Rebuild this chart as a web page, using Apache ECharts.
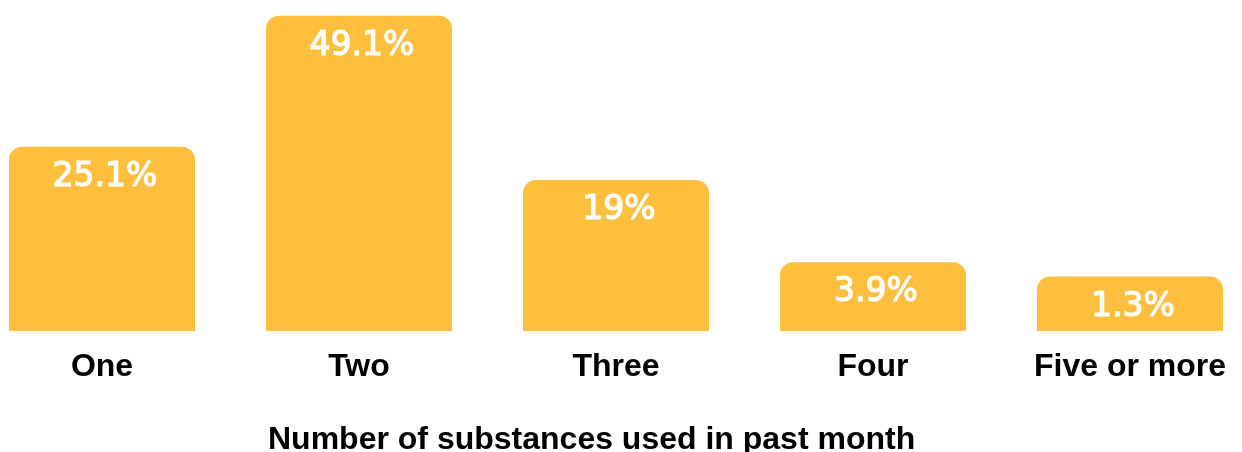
<!DOCTYPE html>
<html>
<head>
<meta charset="utf-8">
<script src="https://cdn.jsdelivr.net/npm/echarts@6/dist/echarts.min.js"></script>
<style>
  html, body { margin: 0; padding: 0; background: #ffffff; }
  #chart { width: 1242px; height: 452px; }
</style>
</head>
<body>
<div id="chart"></div>
<script>
// Share of respondents by number of substances used in the past month (%)
const categories = ['One', 'Two', 'Three', 'Four', 'Five or more'];
const shares = [25.1, 49.1, 19, 3.9, 1.3];
const axisTitle = 'Number of substances used in past month';

const barColor = '#FEBF3F';

const chart = echarts.init(document.getElementById('chart'), null, { renderer: 'canvas' });

chart.setOption({
  animation: false,
  backgroundColor: '#ffffff',
  title: {
    text: axisTitle,
    left: 268,
    top: 424,
    padding: 0,
    textStyle: {
      fontFamily: '"Liberation Sans", Arial, sans-serif',
      fontWeight: 'bold',
      fontSize: 32,
      color: '#000000'
    }
  },
  grid: {
    left: -26.5,
    width: 1285,
    top: 0,
    bottom: 121,
    containLabel: false,
    outerBoundsMode: 'none'
  },
  xAxis: {
    type: 'category',
    data: categories,
    axisLine: { show: false },
    axisTick: { show: false },
    axisLabel: {
      interval: 0,
      hideOverlap: false,
      margin: 20,
      fontFamily: '"Liberation Sans", Arial, sans-serif',
      fontWeight: 'bold',
      fontSize: 32,
      color: '#000000'
    }
  },
  yAxis: {
    type: 'value',
    min: -8.7,
    max: 52,
    startValue: -8.7,
    show: false,
    splitLine: { show: false }
  },
  series: [{
    type: 'bar',
    data: shares,
    barWidth: 186,
    itemStyle: {
      color: barColor,
      borderRadius: [13, 13, 0, 0]
    },
    label: {
      show: true,
      position: 'insideTop',
      distance: 14,
      offset: [3, 0],
      formatter: p => p.value + '%',
      color: '#ffffff',
      textBorderColor: '#ffffff',
      textBorderWidth: 1.2,
      fontFamily: '"DejaVu Sans", sans-serif',
      fontWeight: 'normal',
      fontSize: 33
    }
  }]
});
</script>
</body>
</html>
